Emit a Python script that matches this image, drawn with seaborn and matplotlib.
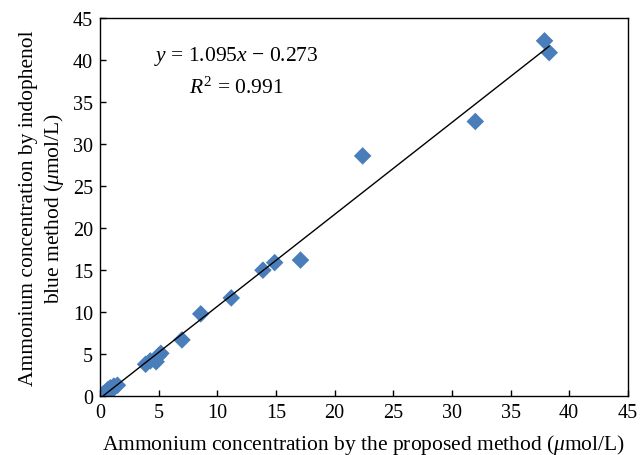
import numpy as np
import pandas as pd
import matplotlib
matplotlib.use("Agg")
import matplotlib.pyplot as plt
import seaborn as sns

# data
proposed = [0.3, 0.5, 0.7, 0.9, 1.0, 1.2, 1.5,
            3.9, 4.3, 4.8, 5.0, 5.2,
            7.0, 8.6, 11.2, 13.9, 14.9, 17.1, 22.4, 32.0, 37.9, 38.3]
indophenol = [0.3, 0.5, 0.8, 1.0, 0.7, 1.2, 1.3,
              3.8, 4.2, 4.1, 4.8, 5.1,
              6.7, 9.8, 11.7, 15.0, 15.9, 16.2, 28.6, 32.7, 42.3, 40.9]
slope, intercept = 1.095, -0.273
r2 = 0.991

df = pd.DataFrame({"proposed": proposed, "indophenol": indophenol})

sns.set_style("ticks")
plt.rcParams['font.family'] = ['Liberation Serif', 'DejaVu Serif']
plt.rcParams['mathtext.fontset'] = 'custom'
plt.rcParams['mathtext.rm'] = 'Liberation Serif'
plt.rcParams['mathtext.it'] = 'Liberation Serif:italic'
plt.rcParams['text.color'] = 'black'
plt.rcParams['axes.labelcolor'] = 'black'
plt.rcParams['xtick.color'] = 'black'
plt.rcParams['ytick.color'] = 'black'

fig = plt.figure(figsize=(6.4, 4.56), dpi=100)
ax = fig.add_axes([0.156, 0.129, 0.825, 0.829])

sns.scatterplot(data=df, x="proposed", y="indophenol", marker="D", s=80,
                color="#4a7ebb", edgecolor="none", ax=ax, zorder=2)

# fitted line
xl = np.array([min(proposed), max(proposed)])
ax.plot(xl, slope * xl + intercept, color="black", lw=1, zorder=3)

ax.set_xlim(0, 45)
ax.set_ylim(0, 45)
ax.set_xticks(range(0, 46, 5))
ax.set_yticks(range(0, 46, 5))
ax.tick_params(direction="in", length=4, width=1, labelsize=14.5, pad=5)
for s in ax.spines.values():
    s.set_visible(True)
    s.set_linewidth(1)
    s.set_color("black")

ax.set_xlabel(r"Ammonium concentration by the proposed method ($\mu$mol/L)", fontsize=15.5, labelpad=7)
ax.set_ylabel("Ammonium concentration by indophenol\n" + r"blue method ($\mu$mol/L)", fontsize=15.5, labelpad=5)

ax.text(11.6, 40.6, r"$y$ = 1.095$x$ − 0.273", fontsize=15.5, ha="center", va="center")
ax.text(11.6, 36.8, r"$R^2$ = %.3f" % r2, fontsize=15.5, ha="center", va="center")

fig.savefig("out.png", dpi=100)
